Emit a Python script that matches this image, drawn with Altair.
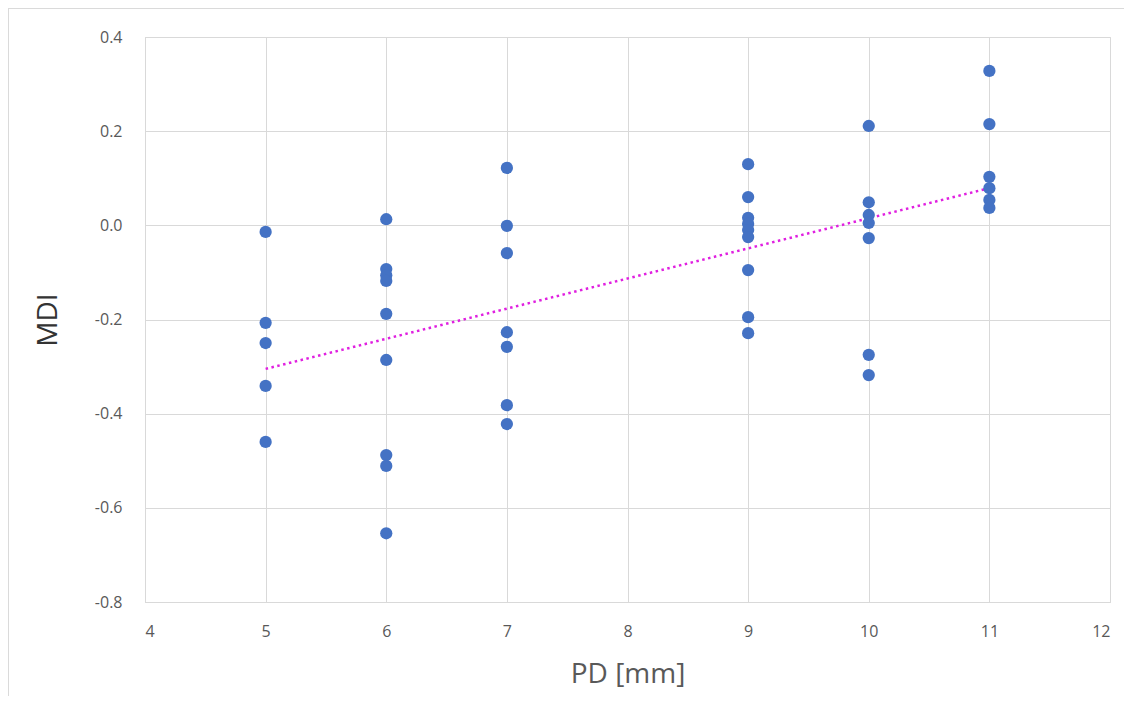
import altair as alt
import pandas as pd

pd_mm = [5, 5, 5, 5, 5,
         6, 6, 6, 6, 6, 6, 6, 6, 6,
         7, 7, 7, 7, 7, 7, 7,
         9, 9, 9, 9, 9, 9, 9, 9, 9,
         10, 10, 10, 10, 10, 10, 10,
         11, 11, 11, 11, 11, 11]
mdi = [-0.014, -0.207, -0.250, -0.341, -0.460,
       0.013, -0.093, -0.106, -0.118, -0.188, -0.286, -0.488, -0.511, -0.654,
       0.122, -0.001, -0.059, -0.227, -0.258, -0.382, -0.422,
       0.130, 0.060, 0.016, 0.003, -0.010, -0.025, -0.095, -0.195, -0.229,
       0.211, 0.049, 0.022, 0.005, -0.027, -0.275, -0.318,
       0.328, 0.215, 0.103, 0.079, 0.054, 0.037]

df = pd.DataFrame({"PD": pd_mm, "MDI": mdi})

FONT = "Open Sans"
GRID = "#d9d9d9"
LABEL = "#595959"

x_enc = alt.X("PD:Q", title="PD [mm]",
              scale=alt.Scale(domain=[4, 12], nice=False, zero=False),
              axis=alt.Axis(values=list(range(4, 13)), format="d", tickSize=0, labelPadding=21,
                            titlePadding=21, labelFontSize=16, titleFontSize=28,
                            titleFontWeight="normal", labelColor=LABEL, titleColor=LABEL,
                            gridColor=GRID, domainColor=GRID, labelFont=FONT, titleFont=FONT))
y_enc = alt.Y("MDI:Q", title="MDI",
              scale=alt.Scale(domain=[-0.8, 0.4], nice=False, zero=False),
              axis=alt.Axis(values=[-0.8, -0.6, -0.4, -0.2, 0.0, 0.2, 0.4], tickSize=0,
                            labelPadding=23,
                            labelExpr="replace(format(datum.value, '.1f'), '\u2212', '-')",
                            titlePadding=32, labelFontSize=16, titleFontSize=28,
                            titleFontWeight="normal", labelColor=LABEL, titleColor="#333333",
                            gridColor=GRID, domainColor=GRID, labelFont=FONT, titleFont=FONT))

points = alt.Chart(df).mark_circle(size=150, color="#4472C4", opacity=1).encode(x=x_enc, y=y_enc)

trend = alt.Chart(df).transform_regression("PD", "MDI", extent=[5, 11]).mark_line(
    color="#E020E0", strokeDash=[2.5, 3.5], strokeWidth=2.5
).encode(x="PD:Q", y="MDI:Q")

frame = alt.Chart(df).mark_rect(fill=None, stroke="#d9d9d9", strokeWidth=1).encode(
    x=alt.value(-137), x2=alt.value(1150 - 145), y=alt.value(-29), y2=alt.value(720 - 37)
)

chart = alt.layer(frame, trend, points).properties(
    width=965, height=565,
    autosize=alt.AutoSizeParams(type="none"),
    padding={"left": 137, "top": 29, "right": 14, "bottom": 94},
).configure_view(stroke=None).configure(background="white")

chart.save("out.html", embed_options={"renderer": "svg", "actions": False})
